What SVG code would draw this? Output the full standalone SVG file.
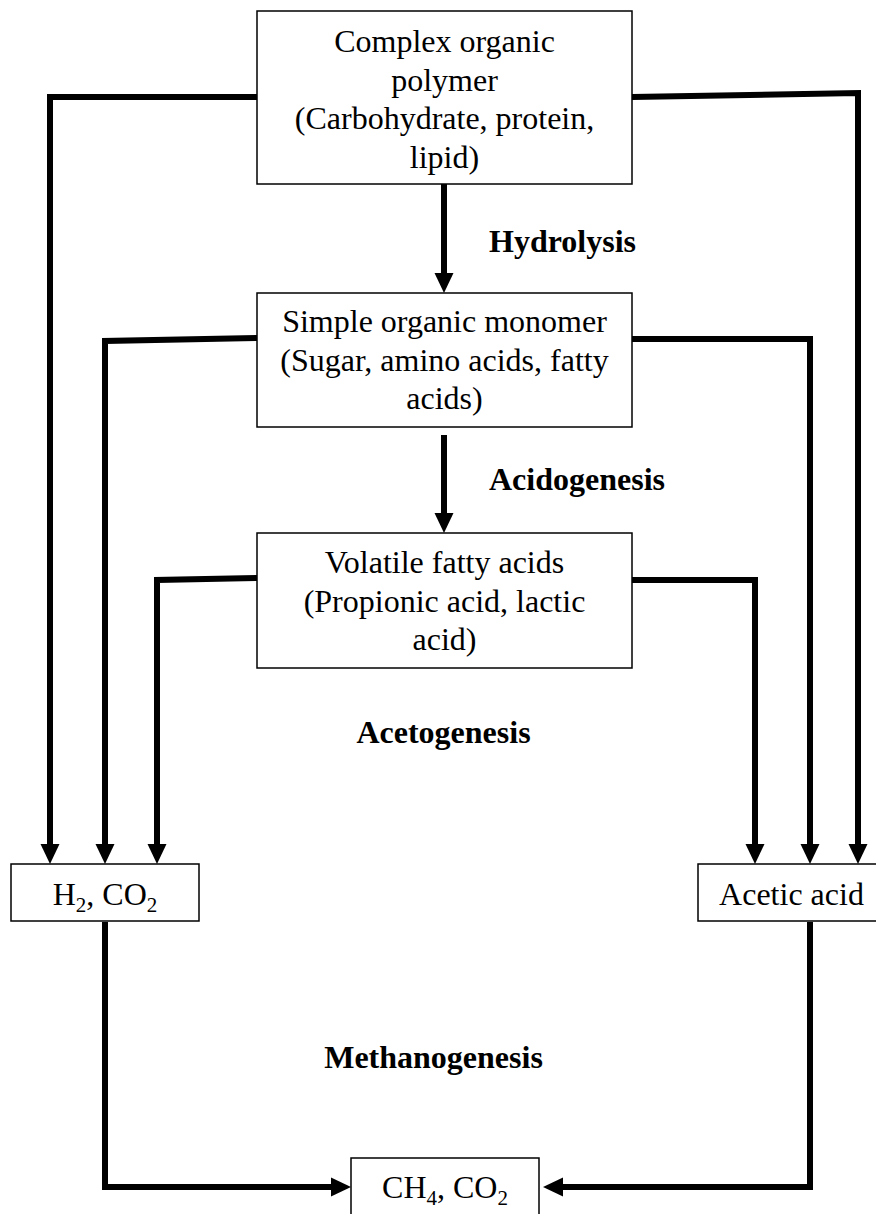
<svg xmlns="http://www.w3.org/2000/svg" width="876" height="1214" viewBox="0 0 876 1214">
<defs>
<style>
.box{fill:#fff;stroke:#000;stroke-width:1.5}
.t{font-family:"Liberation Serif","Times New Roman",serif;font-size:32px;fill:#000;text-anchor:middle}
.lbl{font-family:"Liberation Serif","Times New Roman",serif;font-size:32px;font-weight:bold;fill:#000}
.c{fill:none;stroke:#000;stroke-width:6;stroke-linejoin:miter}
.arr{marker-end:url(#ah)}
</style>
<marker id="ah" markerUnits="userSpaceOnUse" markerWidth="20" markerHeight="20" refX="0" refY="9.5" orient="auto" viewBox="0 0 20 19">
<path d="M0,0 L20,9.5 L0,19 z" fill="#000"/>
</marker>
</defs>
<rect width="876" height="1214" fill="#fff"/>
<g id="connectors">
<path class="c arr" d="M444,184 L444,273"/>
<path class="c arr" d="M444,435 L444,513"/>
<path class="c arr" d="M257,97 L50,97 L50,844"/>
<path class="c arr" d="M257,338 L105,341 L105,844"/>
<path class="c arr" d="M257,578 L157,580 L157,844"/>
<path class="c arr" d="M632,97 L858,93 L858,844"/>
<path class="c arr" d="M632,339 L810,339 L810,844"/>
<path class="c arr" d="M632,580 L755,580 L755,844"/>
<path class="c arr" d="M105,922 L105,1187 L331,1187"/>
<path class="c arr" d="M810,922 L810,1187 L563,1187"/>
</g>
<g id="polymer">
<rect class="box" x="257" y="11" width="375" height="173"/>
<text class="t" x="444.5" y="52">Complex organic</text>
<text class="t" x="444.5" y="90.5">polymer</text>
<text class="t" x="444.5" y="129">(Carbohydrate, protein,</text>
<text class="t" x="444.5" y="167.5">lipid)</text>
</g>
<g id="monomer">
<rect class="box" x="257" y="293" width="375" height="134"/>
<text class="t" x="444.5" y="332">Simple organic monomer</text>
<text class="t" x="444.5" y="371">(Sugar, amino acids, fatty</text>
<text class="t" x="444.5" y="409">acids)</text>
</g>
<g id="vfa">
<rect class="box" x="257" y="533" width="375" height="135"/>
<text class="t" x="444.5" y="573">Volatile fatty acids</text>
<text class="t" x="444.5" y="611.5">(Propionic acid, lactic</text>
<text class="t" x="444.5" y="650">acid)</text>
</g>
<g id="h2co2">
<rect class="box" x="11" y="864" width="188" height="57"/>
<text class="t" x="105" y="905">H<tspan font-size="21" dy="7">2</tspan><tspan dy="-7">, CO</tspan><tspan font-size="21" dy="7">2</tspan></text>
</g>
<g id="acetic">
<rect class="box" x="698" y="864" width="190" height="57"/>
<text class="t" x="791.5" y="905">Acetic acid</text>
</g>
<g id="ch4co2">
<rect class="box" x="351" y="1158" width="188" height="70"/>
<text class="t" x="445" y="1198">CH<tspan font-size="21" dy="7">4</tspan><tspan dy="-7">, CO</tspan><tspan font-size="21" dy="7">2</tspan></text>
</g>
<g id="labels">
<text class="lbl" x="489" y="252">Hydrolysis</text>
<text class="lbl" x="489" y="490">Acidogenesis</text>
<text class="lbl" x="443.5" y="743" text-anchor="middle">Acetogenesis</text>
<text class="lbl" x="433.5" y="1068" text-anchor="middle">Methanogenesis</text>
</g>
</svg>
